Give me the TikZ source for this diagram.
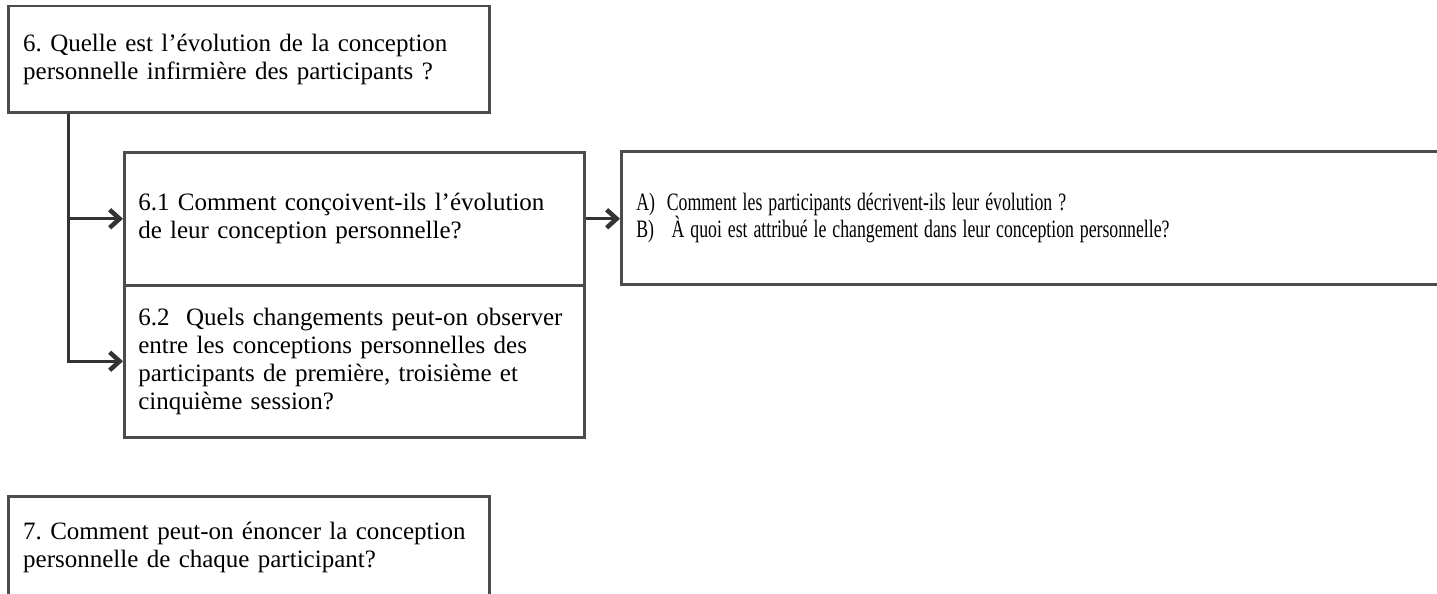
\documentclass[tikz,border=0pt]{standalone}
\usepackage{fontspec}
\usepackage{graphicx}
\setmainfont{Liberation Serif}
\usetikzlibrary{arrows.meta}

\newcommand{\narrowline}[1]{\scalebox{0.71}[1]{#1}}

\tikzset{
	qbox/.style={draw=black!70, line width=2.5pt, anchor=north west, align=left, inner xsep=15pt, inner ysep=0pt, font=\fontsize{25}{28}\selectfont},
	conn/.style={draw=black!80, line width=3pt, -{Straight Barb[length=10pt,width=18pt,line width=4.5pt]}}
}

\begin{document}
\frenchspacing
\begin{tikzpicture}[x=1pt,y=-1pt]
	\clip (0,0) rectangle (1437,594);
	\useasboundingbox (0,0) rectangle (1437,594);

	\node[qbox, text width=451pt, minimum height=106pt] (q6) at (7,5) {6. Quelle est l’évolution de la conception\\personnelle infirmière des participants ?};
	\node[qbox, text width=432pt, minimum height=133pt, inner xsep=14pt] (q61) at (123,151) {6.1 Comment conçoivent-ils l’évolution\\de leur conception personnelle?};
	\node[qbox, text width=432pt, minimum height=152pt, inner xsep=14pt] (q62) at (123,284) {6.2\ \ Quels changements peut-on observer\\entre les conceptions personnelles des\\participants de première, troisième et\\cinquième session?};
	\node[qbox, text width=795pt, minimum height=133pt, font=\fontsize{25}{27}\selectfont] (ab) at (620,150) {\narrowline{A)\ \ Comment les participants décrivent-ils leur évolution ?}\\\narrowline{B)\ \ \ À quoi est attribué le changement dans leur conception personnelle?}};
	\node[qbox, text width=451pt, minimum height=102pt] (q7) at (7,495) {7. Comment peut-on énoncer la conception\\personnelle de chaque participant?};

	\coordinate (trunk) at (q6.south west -| 68,0);
	\draw[conn] (trunk) |- (q61.west);
	\draw[conn] (trunk) |- (q62.west);
	\draw[conn] (q61.east) -- (ab.west |- q61.east);
\end{tikzpicture}
\end{document}
